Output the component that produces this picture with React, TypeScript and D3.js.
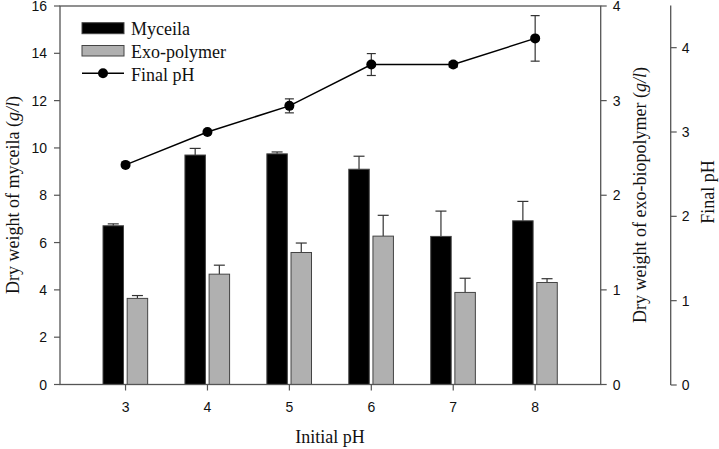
import React from "react";
import * as d3 from "d3";

const initialPH = [3, 4, 5, 6, 7, 8];
const myceila = [6.71, 9.7, 9.75, 9.1, 6.26, 6.92];
const myceilaErr = [0.08, 0.28, 0.08, 0.55, 1.07, 0.82];
const exoPolymer = [0.91, 1.166, 1.395, 1.568, 0.973, 1.078];
const exoErr = [0.03, 0.095, 0.1, 0.22, 0.15, 0.04];
const finalPH = [2.61, 3.0, 3.31, 3.8, 3.8, 4.11];
const finalPHErr = [0.0, 0.0, 0.083, 0.13, 0.03, 0.27];
const leftTicks = [0, 2, 4, 6, 8, 10, 12, 14, 16];
const rightTicks = [0, 1, 2, 3, 4];
const phTicks = [0, 1, 2, 3, 4];
const legendLabels = ["Myceila", "Exo-polymer", "Final pH"];

const AX = "#555";
const SANS = "'Liberation Sans', Arial, sans-serif";
const SERIF = "'Liberation Serif', 'Times New Roman', serif";

export default function App() {
  const left = 60, right = 600.7, top = 6, bottom = 384.5;
  const x = d3.scaleLinear().domain([2.2, 8.8]).range([left, right]);
  const yL = d3.scaleLinear().domain([0, 16]).range([bottom, top]);
  const yR = d3.scaleLinear().domain([0, 4]).range([bottom, top]);
  const pAxisX = 670.7;
  const yP = d3.scaleLinear().domain([0, 4.5]).range([385, 5.5]);
  const bw = 0.25;
  const line = d3
    .line<number>()
    .x((_, i) => x(initialPH[i]))
    .y((d) => yP(d));

  return (
    <svg
      width={719}
      height={449}
      style={{ position: "absolute", left: 0, top: 0, background: "#fff" }}
    >
      {/* bars */}
      {initialPH.map((p, i) => {
        const x0 = x(p - 0.275);
        const x1 = x(p - 0.275 + bw);
        const g0 = x(p + 0.02);
        const g1 = x(p + 0.02 + bw);
        const mc = (x0 + x1) / 2;
        const gc = (g0 + g1) / 2;
        return (
          <g key={p}>
            <line x1={mc} x2={mc} y1={yL(myceila[i])} y2={yL(myceila[i] + myceilaErr[i])} stroke="#333" strokeWidth={1.2} />
            <line x1={mc - 5.5} x2={mc + 5.5} y1={yL(myceila[i] + myceilaErr[i])} y2={yL(myceila[i] + myceilaErr[i])} stroke="#333" strokeWidth={1.2} />
            <rect x={x0} y={yL(myceila[i])} width={x1 - x0} height={bottom - yL(myceila[i])} fill="#000" stroke="#444" strokeWidth={1} />
            <line x1={gc} x2={gc} y1={yR(exoPolymer[i])} y2={yR(exoPolymer[i] + exoErr[i])} stroke="#333" strokeWidth={1.2} />
            <line x1={gc - 5.5} x2={gc + 5.5} y1={yR(exoPolymer[i] + exoErr[i])} y2={yR(exoPolymer[i] + exoErr[i])} stroke="#333" strokeWidth={1.2} />
            <rect x={g0} y={yR(exoPolymer[i])} width={g1 - g0} height={bottom - yR(exoPolymer[i])} fill="#b0b0b0" stroke="#444" strokeWidth={1} />
          </g>
        );
      })}

      {/* final pH line */}
      <path d={line(finalPH) || ""} fill="none" stroke="#000" strokeWidth={1.5} />
      {initialPH.map((p, i) => {
        const cx = x(p);
        const e = finalPHErr[i];
        return (
          <g key={"p" + p}>
            {e > 0 && (
              <g stroke="#333" strokeWidth={1.2}>
                <line x1={cx} x2={cx} y1={yP(finalPH[i] - e)} y2={yP(finalPH[i] + e)} />
                <line x1={cx - 4.5} x2={cx + 4.5} y1={yP(finalPH[i] + e)} y2={yP(finalPH[i] + e)} />
                <line x1={cx - 4.5} x2={cx + 4.5} y1={yP(finalPH[i] - e)} y2={yP(finalPH[i] - e)} />
              </g>
            )}
            <circle cx={cx} cy={yP(finalPH[i])} r={5} fill="#000" />
          </g>
        );
      })}

      {/* frame */}
      <rect x={left} y={top} width={right - left} height={bottom - top} fill="none" stroke={AX} strokeWidth={1.3} />

      {/* left axis */}
      {leftTicks.map((t) => (
        <g key={"l" + t}>
          <line x1={left - 6} x2={left} y1={yL(t)} y2={yL(t)} stroke={AX} strokeWidth={1.2} />
          <text x={left - 13} y={yL(t)} dy="0.36em" textAnchor="end" fontFamily={SANS} fontSize={14} fill="#111">{t}</text>
        </g>
      ))}
      {/* right axis */}
      {rightTicks.map((t) => (
        <g key={"r" + t}>
          <line x1={right} x2={right + 6} y1={yR(t)} y2={yR(t)} stroke={AX} strokeWidth={1.2} />
          <text x={right + 12} y={yR(t)} dy="0.36em" textAnchor="start" fontFamily={SANS} fontSize={14} fill="#111">{t}</text>
        </g>
      ))}
      {/* third axis */}
      <line x1={pAxisX} x2={pAxisX} y1={yP(4.5)} y2={yP(0)} stroke={AX} strokeWidth={1.3} />
      {phTicks.map((t) => (
        <g key={"ph" + t}>
          <line x1={pAxisX} x2={pAxisX + 6} y1={yP(t)} y2={yP(t)} stroke={AX} strokeWidth={1.2} />
          <text x={pAxisX + 11} y={yP(t)} dy="0.36em" textAnchor="start" fontFamily={SANS} fontSize={14} fill="#111">{t}</text>
        </g>
      ))}
      {/* bottom axis */}
      {initialPH.map((p) => (
        <g key={"b" + p}>
          <line x1={x(p)} x2={x(p)} y1={bottom} y2={bottom + 6} stroke={AX} strokeWidth={1.2} />
          <text x={x(p)} y={bottom + 27} textAnchor="middle" fontFamily={SANS} fontSize={14} fill="#111">{p}</text>
        </g>
      ))}

      {/* axis titles */}
      <text x={330} y={443} textAnchor="middle" fontFamily={SERIF} fontSize={18} fill="#111">Initial pH</text>
      <text transform={`translate(19,195) rotate(-90)`} textAnchor="middle" fontFamily={SERIF} fontSize={18} fill="#111">
        Dry weight of myceila (<tspan fontStyle="italic">g/l</tspan>)
      </text>
      <text transform={`translate(646,195) rotate(-90)`} textAnchor="middle" fontFamily={SERIF} fontSize={18} fill="#111">
        Dry weight of exo-biopolymer (<tspan fontStyle="italic">g/l</tspan>)
      </text>
      <text transform={`translate(714,192) rotate(-90)`} textAnchor="middle" fontFamily={SERIF} fontSize={18} fill="#111">Final pH</text>

      {/* legend */}
      <rect x={82} y={22.7} width={42} height={11} fill="#000" stroke="#444" strokeWidth={1} />
      <rect x={82} y={45.5} width={42} height={10.5} fill="#b0b0b0" stroke="#444" strokeWidth={1} />
      <line x1={82} x2={124} y1={73.3} y2={73.3} stroke="#000" strokeWidth={1.5} />
      <circle cx={103} cy={73.3} r={5} fill="#000" />
      {legendLabels.map((l, i) => (
        <text key={l} x={131} y={35 + i * 23} fontFamily={SERIF} fontSize={18} fill="#111">{l}</text>
      ))}
    </svg>
  );
}
